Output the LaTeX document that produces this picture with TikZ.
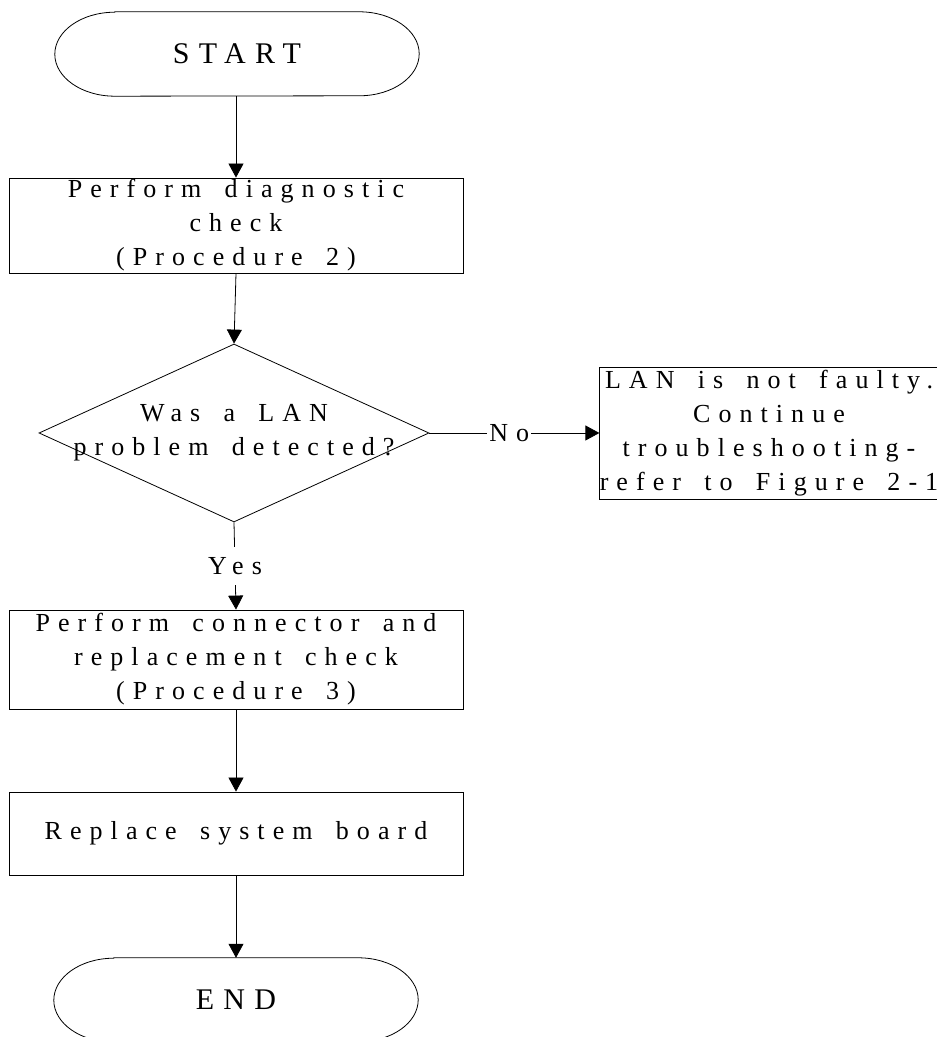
\documentclass[tikz,border=0pt]{standalone}
\usepackage{fontspec}
\newfontfamily\chartfont[LetterSpace=31,WordSpace=1.6]{Liberation Serif}
\usetikzlibrary{shapes.geometric,arrows.meta}
\tikzset{
  txt/.style={font=\chartfont\fontsize{26}{34}\selectfont},
  bigtxt/.style={font=\chartfont\fontsize{30}{36}\selectfont},
  box/.style={draw, line width=0.8pt, minimum width=454pt, align=center, inner sep=0pt},
  term/.style={minimum width=364pt, minimum height=84pt, inner sep=0pt, bigtxt},
  flow/.style={line width=0.8pt, -{Triangle[length=14pt,width=15pt]}},
}
\begin{document}
\begin{tikzpicture}[x=1pt,y=1pt,txt]
\useasboundingbox (0,0) rectangle (937,1037);

\node[term] (start) at (237,983) {START}; % top terminal
\node[box, minimum height=95pt] (diag) at (236,811.5) {Perform diagnostic\\check\\(Procedure 2)}; % first check
\node[draw, diamond, line width=0.8pt, minimum width=390pt, minimum height=178pt, inner sep=0pt] (ask) at (234,604) {}; % decision
\node[align=center] (asktext) at (ask) {Was a LAN\\problem detected?};
\node[box, minimum width=336pt, minimum height=132pt] (nofault) at (769,604) {LAN is not faulty.\\Continue\\troubleshooting-\\refer to Figure 2-1}; % No branch
\node[box, minimum height=99pt] (conn) at (236,377.5) {Perform connector and\\replacement check\\(Procedure 3)}; % Yes branch
\node[box, minimum height=83pt] (board) at (236,203.5) {Replace system board};
\node[term] (stop) at (236,37) {END}; % bottom terminal

%terminal outlines with flat elliptic ends
\foreach \t in {start,stop}
  \draw[line width=0.8pt] ([xshift=60pt]\t.north west) -- ([xshift=-60pt]\t.north east)
    arc[start angle=90, end angle=-90, x radius=60pt, y radius=42pt]
    -- ([xshift=60pt]\t.south west)
    arc[start angle=270, end angle=90, x radius=60pt, y radius=42pt] -- cycle;

%arrows down the chart
\draw[flow] (start.south -| diag.north) -- (diag.north);
\draw[flow] (diag.south) -- (ask.north);
\draw[flow] (ask.east) -- node[fill=white, inner xsep=2pt, inner ysep=1pt, pos=0.47] (nolabel) {No} (nofault.west);
\draw[flow] (ask.south) -- node[fill=white, inner xsep=2pt, inner ysep=10pt] (yeslabel) {Yes} (conn.north);
\draw[flow] (conn.south) -- (board.north);
\draw[flow] (board.south) -- (stop.north);
\end{tikzpicture}
\end{document}
